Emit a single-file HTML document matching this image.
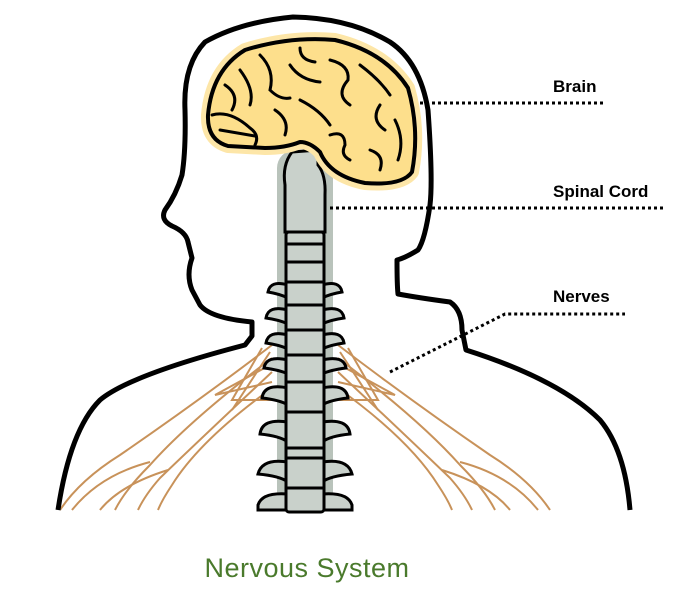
<!DOCTYPE html>
<html><head><style>
body{margin:0;background:#fff;}
svg{display:block}
text{font-family:"Liberation Sans",sans-serif;}
</style></head><body>
<svg width="700" height="595" viewBox="0 0 700 595">
<!-- nerves -->
<g fill="none" stroke="#c8925a" stroke-width="2">
<path d="M272,345 Q200,400 120,455 Q80,480 60,510"/>
<path d="M272,358 Q190,420 150,465 Q125,490 115,510"/>
<path d="M272,372 Q210,430 160,478 Q145,495 138,510"/>
<path d="M272,388 Q200,440 172,485 Q162,500 158,510"/>
<path d="M272,400 L232,400 L262,348"/>
<path d="M270,352 L232,410 M270,365 L215,395 L272,382"/>
<path d="M150,462 Q100,475 72,510 M168,470 Q120,485 100,510"/>
<path d="M338,345 Q410,400 490,455 Q530,480 550,510"/>
<path d="M338,358 Q420,420 460,465 Q485,490 495,510"/>
<path d="M338,372 Q400,430 450,478 Q465,495 472,510"/>
<path d="M338,388 Q410,440 438,485 Q448,500 452,510"/>
<path d="M338,400 L378,400 L348,348"/>
<path d="M340,352 L378,410 M340,365 L395,395 L338,382"/>
<path d="M460,462 Q510,475 538,510 M442,470 Q490,485 510,510"/>
</g>
<!-- body outline -->
<path d="M58,510 Q70,430 100,400 Q130,375 245,345 L252,336 L252,322 Q210,318 200,305 L192,290 Q186,275 192,258 L188,242 Q186,232 172,226 Q160,220 165,210 Q176,195 182,175 Q186,150 185,110 Q183,65 205,42 Q240,22 293,17 Q350,18 390,42 Q420,62 428,110 Q433,180 430,205 Q425,240 418,250 Q405,258 397,260 Q397,285 398,294 Q420,298 450,302 Q462,310 462,330 L466,350 Q560,380 600,420 Q625,450 630,510" fill="none" stroke="#000" stroke-width="5" stroke-linejoin="round"/>
<!-- spine -->
<rect x="277" y="150" width="56" height="360" rx="18" fill="#b9c3bb"/>
<path d="M292,152 Q282,165 285,185 L285,232 L325,232 L325,195 Q326,175 318,165 L318,150 Z" fill="#c9d1cb" stroke="#000" stroke-width="3"/>
<g fill="#c9d1cb" stroke="#000" stroke-width="3">
<path d="M288,285 Q270,280 268,292 Q280,294 288,298 Z M322,285 Q340,280 342,292 Q330,294 322,298 Z"/>
<path d="M288,310 Q268,305 266,318 Q280,320 288,324 Z M322,310 Q342,305 344,318 Q330,320 322,324 Z"/>
<path d="M288,335 Q268,330 266,343 Q280,345 288,349 Z M322,335 Q342,330 344,343 Q330,345 322,349 Z"/>
<path d="M288,360 Q266,355 264,368 Q280,370 288,374 Z M322,360 Q344,355 346,368 Q330,370 322,374 Z"/>
<path d="M288,388 Q264,383 262,398 Q280,400 288,405 Z M322,388 Q346,383 348,398 Q330,400 322,405 Z"/>
<path d="M288,422 Q262,418 260,434 Q280,436 288,442 Z M322,422 Q348,418 350,434 Q330,436 322,442 Z"/>
<path d="M288,462 Q262,458 258,474 Q280,476 288,482 Z M322,462 Q348,458 352,474 Q330,476 322,482 Z"/>
<path d="M288,494 Q262,492 258,505 L258,510 L288,510 Z M322,494 Q348,492 352,505 L352,510 L322,510 Z"/>
<rect x="286" y="232" width="38" height="280" rx="3"/>
</g>
<g stroke="#000" stroke-width="3">
<line x1="286" y1="244" x2="324" y2="244"/><line x1="286" y1="262" x2="324" y2="262"/>
<line x1="286" y1="282" x2="324" y2="282"/><line x1="286" y1="305" x2="324" y2="305"/>
<line x1="286" y1="330" x2="324" y2="330"/><line x1="286" y1="355" x2="324" y2="355"/>
<line x1="286" y1="382" x2="324" y2="382"/><line x1="286" y1="412" x2="324" y2="412"/>
<line x1="286" y1="448" x2="324" y2="448"/><line x1="286" y1="458" x2="324" y2="458"/>
<line x1="286" y1="488" x2="324" y2="488"/>
</g>
<!-- brain -->
<path d="M208,115 Q212,70 245,50 Q290,36 335,40 Q385,52 408,88 Q420,130 412,172 Q402,186 365,183 Q330,176 320,152 Q310,142 300,142 Q285,148 265,148 L228,146 Q207,140 208,115 Z" fill="#fddf8c" stroke="#fde6a8" stroke-width="14" stroke-linejoin="round"/>
<path d="M208,115 Q212,70 245,50 Q290,36 335,40 Q385,52 408,88 Q420,130 412,172 Q402,186 365,183 Q330,176 320,152 Q310,142 300,142 Q285,148 265,148 L228,146 Q207,140 208,115 Z" fill="#fddf8c" stroke="#000" stroke-width="4" stroke-linejoin="round"/>
<g fill="none" stroke="#000" stroke-width="3" stroke-linecap="round">
<path d="M212,115 Q230,110 250,128 Q260,135 255,145"/>
<path d="M220,130 L255,136"/>
<path d="M225,85 Q240,95 232,110 M240,70 Q255,90 250,105"/>
<path d="M260,55 Q275,70 270,90 Q280,100 290,98"/>
<path d="M300,48 Q300,60 315,62 M290,65 Q300,80 320,82"/>
<path d="M330,60 Q350,65 348,80 Q335,95 350,105"/>
<path d="M360,65 Q380,80 390,95 M380,105 Q370,120 385,130"/>
<path d="M300,100 Q320,110 330,125 M330,135 Q345,130 345,145 Q340,155 350,160"/>
<path d="M370,150 Q385,155 380,170 M395,120 Q405,140 398,160"/>
<path d="M275,110 Q290,120 285,135"/>
</g>
<!-- label lines -->
<g stroke="#000" stroke-width="3" stroke-dasharray="3,3" fill="none">
<line x1="420" y1="103" x2="605" y2="103"/>
<line x1="330" y1="208" x2="665" y2="208"/>
<polyline points="390,372 505,314 625,314"/>
</g>
<text x="553" y="92" font-size="17" font-weight="bold">Brain</text>
<text x="553" y="197" font-size="17" font-weight="bold">Spinal Cord</text>
<text x="553" y="302" font-size="17" font-weight="bold">Nerves</text>
<text x="307" y="577" font-size="27" fill="#4a7a2c" text-anchor="middle" letter-spacing="0.5">Nervous System</text>
</svg>
</body></html>
